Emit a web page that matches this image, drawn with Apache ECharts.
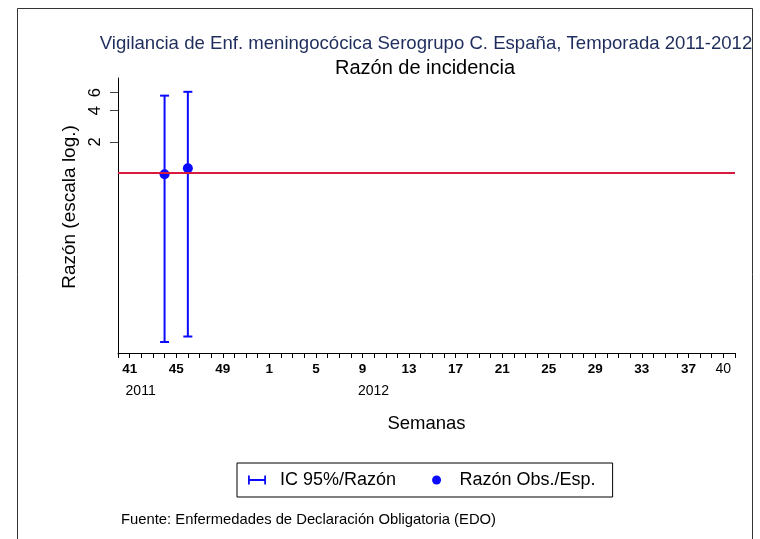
<!DOCTYPE html>
<html>
<head>
<meta charset="utf-8">
<script src="https://cdn.jsdelivr.net/npm/echarts@6/dist/echarts.min.js"></script>
<style>
  html, body { margin: 0; padding: 0; background: #fff; }
  #chart { width: 760px; height: 539px; }
</style>
</head>
<body>
<div id="chart"></div>
<script>
// semanas de la temporada (41/2011 ... 40/2012)
const weeks = [41, 42, 43, 44, 45, 46, 47, 48, 49, 50, 51, 52,
  1, 2, 3, 4, 5, 6, 7, 8, 9, 10, 11, 12, 13, 14, 15, 16, 17, 18, 19, 20,
  21, 22, 23, 24, 25, 26, 27, 28, 29, 30, 31, 32, 33, 34, 35, 36, 37, 38, 39, 40];
const tickLabels = ['41', '45', '49', '1', '5', '9', '13', '17', '21', '25', '29', '33', '37', '40'];
const yearLabels = { 41: '2011', 9: '2012' };
const yTicks = [2, 4, 6];

// razón observados/esperados e IC 95%
const obsWeeks = [44, 46];
const ratio = [0.97, 1.11];
const lower = [0.023, 0.026];
const upper = [5.6, 6.1];
const refValue = 1;

const FONT = 'Liberation Sans, Arial, sans-serif';
const BLUE = '#0a0aff';

const idx = w => weeks.indexOf(w);
const labelIdx = tickLabels.map(t => weeks.indexOf(Number(t)));

const pointData = obsWeeks.map((w, i) => [idx(w), ratio[i]]);
const barData = obsWeeks.map((w, i) => [idx(w), lower[i], upper[i]]);

const chart = echarts.init(document.getElementById('chart'));

chart.setOption({
  animation: false,
  backgroundColor: '#fff',
  textStyle: { fontFamily: FONT },
  title: [
    {
      text: 'Vigilancia de Enf. meningocócica Serogrupo C. España, Temporada 2011-2012',
      left: 426, top: 34, padding: 0, textAlign: 'center',
      textStyle: { fontSize: 18.6, fontWeight: 'normal', color: '#1f2d5c', fontFamily: FONT }
    },
    {
      text: 'Razón de incidencia',
      left: 425, top: 58, padding: 0, textAlign: 'center',
      textStyle: { fontSize: 20, fontWeight: 'normal', color: '#000', fontFamily: FONT }
    },
    {
      text: 'Fuente: Enfermedades de Declaración Obligatoria (EDO)',
      left: 121, top: 512, padding: 0,
      textStyle: { fontSize: 14.8, fontWeight: 'normal', color: '#000', fontFamily: FONT }
    }
  ],
  graphic: [{
    type: 'rect', z: -1,
    shape: { x: 17.5, y: 8.5, width: 735, height: 560 },
    style: { fill: 'none', stroke: '#333', lineWidth: 1 }
  }],
  legend: {
    left: 237, top: 463,
    padding: [8, 17, 8, 11],
    borderColor: '#000', borderWidth: 1,
    itemWidth: 22, itemHeight: 9, itemGap: 36,
    textStyle: { fontSize: 18, color: '#000', fontFamily: FONT, padding: [0, 0, 0, 7] },
    data: [
      { name: 'IC 95%/Razón', icon: 'path://M0,0h2v10h-2z M2,4h16v2h-16z M18,0h2v10h-2z' },
      { name: 'Razón Obs./Esp.', icon: 'circle' }
    ]
  },
  grid: { left: 118, right: 25, top: 78, bottom: 186 },
  xAxis: {
    type: 'value',
    min: -1, max: 52, interval: 1,
    name: 'Semanas', nameLocation: 'middle', nameGap: 61,
    nameTextStyle: { fontSize: 18.5, color: '#000', fontFamily: FONT },
    axisLine: { onZero: false, lineStyle: { color: '#000', width: 1 } },
    axisTick: { length: 5, lineStyle: { color: '#000' } },
    splitLine: { show: false },
    axisLabel: {
      customValues: labelIdx,
      margin: 9,
      formatter: v => {
        const w = weeks[Math.round(v)];
        if (w === undefined) return '';
        let s = Math.round(v) === weeks.length - 1 ? '{n|' + w + '}' : '{b|' + w + '}';
        if (yearLabels[w] && Math.round(v) < 30) s += '\n{y|' + yearLabels[w] + '}';
        return s;
      },
      rich: {
        b: { fontSize: 13.5, fontWeight: 'bold', color: '#000', fontFamily: FONT, lineHeight: 15 },
        n: { fontSize: 14, color: '#000', fontFamily: FONT, lineHeight: 15 },
        y: { fontSize: 14, color: '#000', fontFamily: FONT, lineHeight: 22, padding: [6, 0, 0, 22] }
      }
    }
  },
  yAxis: {
    type: 'log',
    logBase: 10,
    min: 0.018, max: 8.3,
    name: 'Razón (escala log.)', nameLocation: 'middle', nameGap: 36,
    nameTextStyle: { fontSize: 19, color: '#000', fontFamily: FONT, padding: [0, 0, 0, 17] },
    axisLine: { show: true, onZero: false, lineStyle: { color: '#000', width: 1 } },
    axisTick: { show: true, length: 8, customValues: yTicks, lineStyle: { color: '#444' } },
    splitLine: { show: false },
    minorTick: { show: false },
    axisLabel: {
      customValues: yTicks,
      rotate: 90, margin: 14,
      fontSize: 16.5, color: '#000', fontFamily: FONT,
      formatter: v => String(Math.round(v))
    }
  },
  series: [
    {
      name: 'IC 95%/Razón',
      type: 'custom',
      itemStyle: { color: BLUE },
      data: barData,
      z: 3,
      renderItem: (params, api) => {
        const x = api.value(0);
        const lo = api.coord([x, api.value(1)]);
        const hi = api.coord([x, api.value(2)]);
        const cap = 4.5;
        const style = { stroke: BLUE, lineWidth: 2, fill: 'none' };
        return {
          type: 'group',
          children: [
            { type: 'line', shape: { x1: lo[0], y1: lo[1], x2: hi[0], y2: hi[1] }, style },
            { type: 'line', shape: { x1: lo[0] - cap, y1: lo[1], x2: lo[0] + cap, y2: lo[1] }, style },
            { type: 'line', shape: { x1: hi[0] - cap, y1: hi[1], x2: hi[0] + cap, y2: hi[1] }, style }
          ]
        };
      }
    },
    {
      name: 'Razón Obs./Esp.',
      type: 'scatter',
      symbol: 'circle',
      symbolSize: 10,
      itemStyle: { color: BLUE, opacity: 1 },
      data: pointData,
      z: 4,
      markLine: {
        silent: true,
        symbol: ['none', 'none'],
        label: { show: false },
        lineStyle: { color: '#d81b3c', width: 2, type: 'solid' },
        data: [{ yAxis: refValue }]
      }
    }
  ]
});
</script>
</body>
</html>
